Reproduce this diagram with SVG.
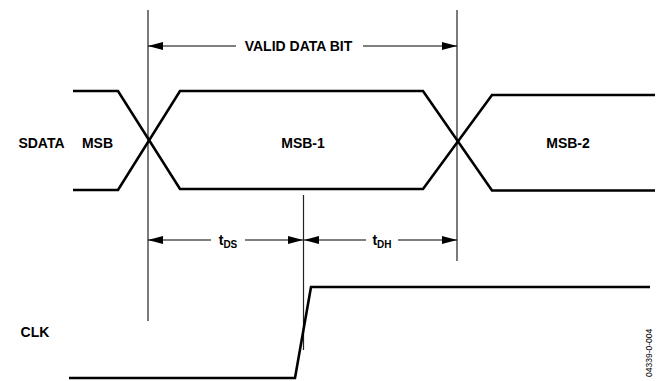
<svg xmlns="http://www.w3.org/2000/svg" width="657" height="381" viewBox="0 0 657 381">
<style>
.wave{fill:none;stroke:#000;stroke-width:2.6;stroke-linejoin:miter}
.ref{fill:none;stroke:#222;stroke-width:1.2}
.dim{fill:none;stroke:#000;stroke-width:1.2}
.lbl{font-family:"Liberation Sans",Arial,sans-serif;font-weight:bold;font-size:14px;fill:#000}
.sub{font-size:10px}
.fig{font-family:"Liberation Sans",Arial,sans-serif;font-size:8.5px;fill:#000}
</style>
<defs>
<marker id="ah" viewBox="0 0 15 8" refX="15" refY="4" markerWidth="15" markerHeight="8" markerUnits="userSpaceOnUse" orient="auto-start-reverse">
<path d="M0,0 L15,4 L0,8 Z" fill="#000"/>
</marker>
</defs>
<rect width="657" height="381" fill="#fff"/>
<g id="connectors">
<line class="ref" x1="148" y1="10" x2="148" y2="321"/>
<line class="ref" x1="457" y1="10" x2="457" y2="261"/>
<line class="ref" x1="303.5" y1="195" x2="303.5" y2="350"/>
<line class="dim" x1="148" y1="46" x2="236" y2="46" marker-start="url(#ah)"/>
<line class="dim" x1="363" y1="46" x2="457" y2="46" marker-end="url(#ah)"/>
<line class="dim" x1="148" y1="240" x2="211" y2="240" marker-start="url(#ah)"/>
<line class="dim" x1="245" y1="240" x2="303" y2="240" marker-end="url(#ah)"/>
<line class="dim" x1="304" y1="240" x2="366" y2="240" marker-start="url(#ah)"/>
<line class="dim" x1="398" y1="240" x2="457" y2="240" marker-end="url(#ah)"/>
</g>
<g id="sdata">
<polyline class="wave" points="73,91 118,91 180,189 423,189 492,95 655,95"/>
<polyline class="wave" points="73,190 118,190 180,91 423,91 492,190.5 655,190.5"/>
</g>
<g id="clk">
<polyline class="wave" points="69,378 295,378 311,287 650,287"/>
</g>
<g id="labels">
<text class="lbl" x="298.5" y="51" text-anchor="middle">VALID DATA BIT</text>
<text class="lbl" x="41.5" y="148" text-anchor="middle" font-size="11.5">SDATA</text>
<text class="lbl" x="97.5" y="148" text-anchor="middle">MSB</text>
<text class="lbl" x="303" y="148" text-anchor="middle">MSB-1</text>
<text class="lbl" x="568" y="148" text-anchor="middle">MSB-2</text>
<text class="lbl" x="228" y="245" text-anchor="middle">t<tspan class="sub" dy="3">DS</tspan></text>
<text class="lbl" x="382" y="245" text-anchor="middle">t<tspan class="sub" dy="3">DH</tspan></text>
<text class="lbl" x="35" y="337" text-anchor="middle" font-size="12">CLK</text>
<text class="fig" transform="translate(652,377) rotate(-90)">04339-0-004</text>
</g>
</svg>
